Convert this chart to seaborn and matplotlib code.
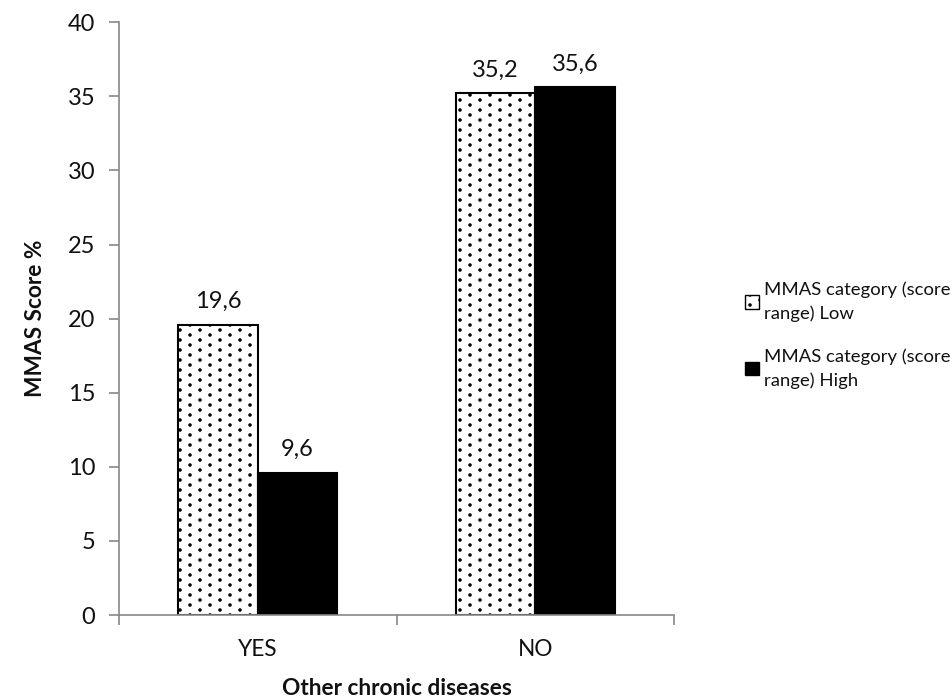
import matplotlib
matplotlib.use("Agg")
import matplotlib.pyplot as plt
import matplotlib.hatch as mhatch
from matplotlib.patches import Patch
import seaborn as sns
import pandas as pd

categories = ["YES", "NO"]
series_names = ["MMAS category (score\nrange) Low", "MMAS category (score\nrange) High"]
low_values = [19.6, 35.2]
high_values = [9.6, 35.6]
y_ticks = [0, 5, 10, 15, 20, 25, 30, 35, 40]
colors = ["white", "black"]
hatches = [".", ""]


# finer, transposed dot grid (closer to the reference's dotted fill)
try:
    class _FineDots(mhatch.SmallFilledCircles):
        def __init__(self, hatch, density):
            n = int(round(hatch.count('.') * density * 5 / 3))
            self.num_rows = n + (n % 2)
            mhatch.Circles.__init__(self, hatch, density)

        def set_vertices_and_codes(self, vertices, codes):
            super().set_vertices_and_codes(vertices, codes)
            vertices[:] = vertices[:, ::-1].copy()

    mhatch._hatch_types = [(_FineDots if t is mhatch.SmallFilledCircles else t)
                           for t in mhatch._hatch_types]
except Exception:
    pass

sns.set_theme(style="white")
plt.rcParams['font.family'] = ['Lato', 'DejaVu Sans']
plt.rcParams['hatch.linewidth'] = 1.1
plt.rcParams['hatch.color'] = '#333333'

df = pd.DataFrame({
    "cat": categories * 2,
    "series": [series_names[0]] * 2 + [series_names[1]] * 2,
    "value": low_values + high_values,
})

FS = 16.3
FN = 17
FL = 13.3
fig = plt.figure(figsize=(9.53, 6.97), dpi=100)
ax = fig.add_axes([0.1249, 0.1176, 0.5824, 0.8505])

sns.barplot(data=df, x="cat", y="value", hue="series", order=categories,
            hue_order=series_names, palette=colors, width=0.573,
            edgecolor="black", linewidth=1.5, ax=ax, legend=False)

for container, h in zip(ax.containers, hatches):
    for bar in container:
        bar.set_hatch(h)
        bar.set_edgecolor('black')

for container, vals in zip(ax.containers, [low_values, high_values]):
    ax.bar_label(container, labels=[f"{v:.1f}".replace('.', ',') for v in vals],
                 padding=9, fontsize=FN, color='#111111')

ax.set_ylim(0, 40)
ax.set_yticks(y_ticks)
ax.set_xlim(-0.5, 1.5)
ax.tick_params(axis='y', labelsize=FN, length=7, width=1.2, color='#888888',
               direction='out', pad=10, left=True, labelcolor='#111111')
ax.tick_params(axis='x', labelsize=FS, length=0, pad=17, labelcolor='#111111')
ax.set_xticks([-0.5, 0.5, 1.5], minor=True)
ax.tick_params(axis='x', which='minor', length=7, width=1.2, color='#888888',
               direction='out', bottom=True)
for s in ['top', 'right']:
    ax.spines[s].set_visible(False)
for s in ['left', 'bottom']:
    ax.spines[s].set_color('#888888')
    ax.spines[s].set_linewidth(1.2)

ax.set_ylabel("MMAS Score %", fontsize=FS, fontweight='bold', labelpad=16, color='#111111')
ax.set_xlabel("Other chronic diseases", fontsize=FS, fontweight='bold', labelpad=13, color='#111111')

handles = [Patch(facecolor=c, edgecolor='black', hatch=h, linewidth=1.0)
           for c, h in zip(colors, hatches)]
leg = ax.legend(handles, series_names, loc='center left', bbox_to_anchor=(1.115, 0.472),
                frameon=False, fontsize=FL, handlelength=0.75, handleheight=0.75,
                handletextpad=0.25, labelspacing=1.45, borderaxespad=0)
for t in leg.get_texts():
    t.set_color('#111111')
    t.set_linespacing(1.5)

fig.savefig("out.png", dpi=100)
